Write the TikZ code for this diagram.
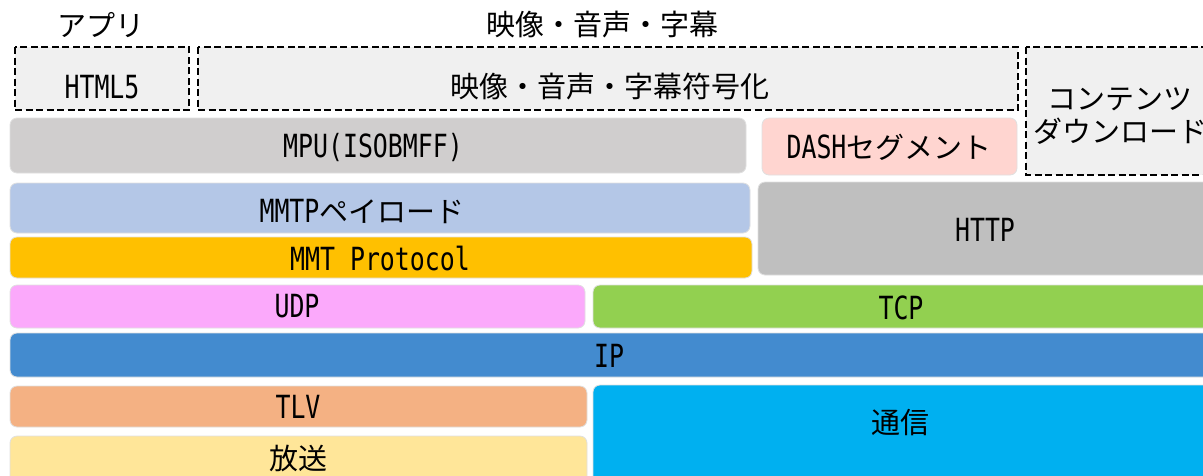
\documentclass[tikz,border=0pt]{standalone}
\usepackage{fontspec}
\usepackage{tikz}
\setmainfont{Noto Sans CJK JP}
\newfontfamily\hw{DejaVu Sans Mono}[FakeStretch=0.78, Scale=1.1]

\definecolor{mpugray}{HTML}{D0CECE}
\definecolor{dashpink}{HTML}{FFD5D0}
\definecolor{payblue}{HTML}{B4C7E7}
\definecolor{mmtorange}{HTML}{FFC000}
\definecolor{httpgray}{HTML}{BFBFBF}
\definecolor{udppink}{HTML}{FBA9FB}
\definecolor{tcpgreen}{HTML}{92D050}
\definecolor{ipblue}{HTML}{438BCF}
\definecolor{tlvorange}{HTML}{F4B183}
\definecolor{bcyellow}{HTML}{FFE699}
\definecolor{comcyan}{HTML}{00B0F0}

\tikzset{
  layer/.style={draw=black!12, line width=0.8pt, rounded corners=7pt},
  dashbox/.style={draw=black, line width=2.5pt, dash pattern=on 7pt off 3.5pt, fill=black!6},
  txt/.style={font=\fontsize{29}{33}\selectfont, inner sep=0pt}
}

\begin{document}
\begin{tikzpicture}[x=1pt,y=-1pt]
\clip (0,0) rectangle (1203,475);
\fill[white] (0,0) rectangle (1203,475);

% headings
\node[txt] (app) at (101,25) {アプリ};
\node[txt] (media) at (602,25) {映像・音声・字幕};

% dashed boxes
\draw[dashbox] (15,47) rectangle (189,110);
\node[txt] (html) at (102,87) {\hw HTML5};
\draw[dashbox] (198,47) rectangle (1018,110);
\node[txt] (codec) at (610,87) {映像・音声・字幕符号化};
\draw[dashbox] (1026,47) rectangle (1220,175);
\node[txt, align=center, font=\fontsize{29}{33}\selectfont] (dl) at (1120,116) {コンテンツ\\ダウンロード};

% upper layers
\draw[layer, fill=mpugray] (10,118) rectangle (746,173);
\node[txt] (mpu) at (373,147) {\hw MPU(ISOBMFF)};
\draw[layer, fill=dashpink] (762,118) rectangle (1017,175);
\node[txt] (seg) at (889,147) {{\hw DASH}セグメント};

\draw[layer, fill=payblue] (10,183) rectangle (750,233);
\node[txt] (pay) at (362,211) {{\hw MMTP}ペイロード};
\draw[layer, fill=mmtorange] (10,237) rectangle (752,278);
\node[txt] (mmtp) at (380,259) {\hw MMT Protocol};
\draw[layer, fill=httpgray] (758,182) rectangle (1230,275);
\node[txt] (http) at (985,230) {\hw HTTP};

% transport
\draw[layer, fill=udppink] (10,285) rectangle (585,328);
\node[txt] (udp) at (297,306) {\hw UDP};
\draw[layer, fill=tcpgreen] (593,285) rectangle (1230,328);
\node[txt] (tcp) at (901,308) {\hw TCP};

\draw[layer, fill=ipblue] (10,333) rectangle (1230,377);
\node[txt] (ip) at (609,356) {\hw IP};

% lower layers
\draw[layer, fill=tlvorange] (10,386) rectangle (587,427);
\node[txt] (tlv) at (298,407) {\hw TLV};
\draw[layer, fill=bcyellow] (10,436) rectangle (587,500);
\node[txt] (bc) at (298,458) {放送};
\draw[layer, fill=comcyan] (593,385) rectangle (1230,500);
\node[txt] (com) at (900,423) {通信};
\end{tikzpicture}
\end{document}
